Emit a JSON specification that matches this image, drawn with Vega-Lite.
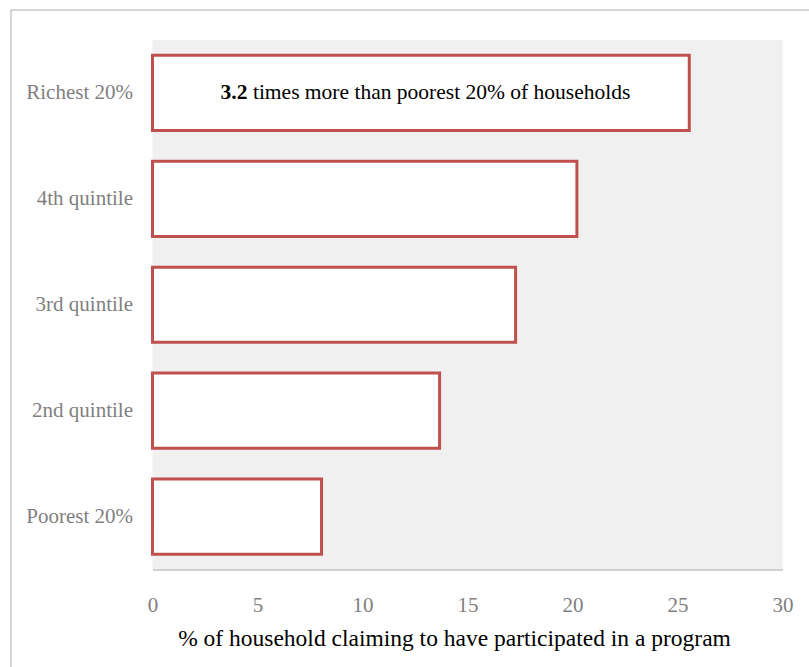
{
  "$schema": "https://vega.github.io/schema/vega-lite/v6.json",
  "width": 820,
  "height": 680,
  "autosize": {"type": "none"},
  "padding": {"left": 10.5, "top": 9.5, "right": 0, "bottom": 0},
  "background": "white",
  "config": {
    "view": {"stroke": "#ababab", "strokeWidth": 1, "fill": "white"},
    "font": "Liberation Serif"
  },
  "datasets": {
    "households": [
      {"category": "Richest 20%", "share": 25.56},
      {"category": "4th quintile", "share": 20.21},
      {"category": "3rd quintile", "share": 17.29},
      {"category": "2nd quintile", "share": 13.67},
      {"category": "Poorest 20%", "share": 8.05}
    ],
    "note": [
      {"category": "Richest 20%", "ratio": "3.2", "text": "times more than poorest 20% of households"}
    ]
  },
  "resolve": {"scale": {"y": "independent"}, "axis": {"y": "independent"}},
  "layer": [
    {
      "data": {"values": [{"area": "plot"}]},
      "mark": {"type": "rect", "fill": "#f0f0f0"},
      "encoding": {
        "x": {"datum": 0, "type": "quantitative"},
        "x2": {"datum": 30},
        "y": {
          "field": "area",
          "type": "nominal",
          "scale": {"range": [30.5, 560], "paddingInner": 0, "paddingOuter": 0},
          "axis": null
        }
      }
    },
    {
      "layer": [
        {
          "data": {"name": "households"},
          "mark": {"type": "bar", "fill": "white", "stroke": "#c0504d", "strokeWidth": 3},
          "encoding": {
            "y": {
              "field": "category",
              "type": "nominal",
              "sort": null,
              "scale": {"range": [30.5, 560], "paddingInner": 0.29, "paddingOuter": 0.145},
              "axis": {
                "orient": "left",
                "offset": -142,
                "domain": false,
                "ticks": false,
                "tickSize": 0,
                "grid": false,
                "labelPadding": 20,
                "labelFont": "Liberation Serif",
                "labelFontSize": 21,
                "labelColor": "#7f7f7f",
                "labelLimit": 0,
                "title": null
              }
            },
            "x": {
              "field": "share",
              "type": "quantitative",
              "scale": {"domain": [0, 30], "range": [142, 772], "nice": false, "zero": true},
              "axis": {
                "values": [0, 5, 10, 15, 20, 25, 30],
                "offset": -120,
                "zindex": 1,
                "grid": false,
                "ticks": false,
                "tickSize": 0,
                "domainColor": "#a6a6a6",
                "domainWidth": 1.2,
                "labelFont": "Liberation Serif",
                "labelFontSize": 21,
                "labelColor": "#7f7f7f",
                "labelBaseline": "alphabetic",
                "labelPadding": 41.5,
                "labelFlush": false,
                "title": "% of household claiming to have participated in a program",
                "titleFont": "Liberation Serif",
                "titleFontSize": 23.5,
                "titleFontWeight": "normal",
                "titleColor": "black",
                "titleAlign": "center",
                "titleBaseline": "alphabetic",
                "titleX": 443.5,
                "titleY": 75.5
              }
            }
          }
        },
        {
          "data": {"name": "note"},
          "mark": {"type": "text", "align": "right", "baseline": "middle", "fontWeight": "bold", "fontSize": 21.5, "font": "Liberation Serif", "color": "black"},
          "encoding": {
            "y": {"field": "category", "type": "nominal", "sort": null},
            "x": {"datum": 4.52, "type": "quantitative"},
            "text": {"field": "ratio"}
          }
        },
        {
          "data": {"name": "note"},
          "mark": {"type": "text", "align": "left", "baseline": "middle", "dx": 5.5, "fontSize": 21.5, "font": "Liberation Serif", "color": "black"},
          "encoding": {
            "y": {"field": "category", "type": "nominal", "sort": null},
            "x": {"datum": 4.52, "type": "quantitative"},
            "text": {"field": "text"}
          }
        }
      ]
    }
  ]
}
